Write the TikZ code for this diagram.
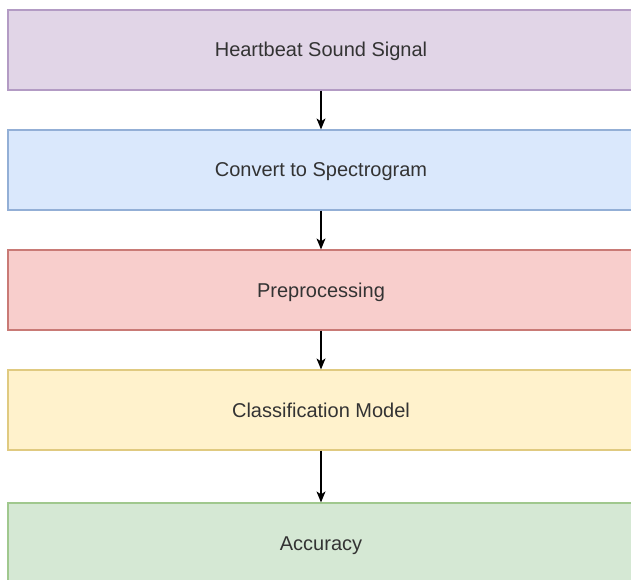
\documentclass[tikz,border=0pt]{standalone}
\usepackage{fontspec}
\setmainfont{Liberation Sans}
\usetikzlibrary{arrows.meta}
\definecolor{txt}{HTML}{333333}
\definecolor{pfill}{HTML}{E1D5E7}\definecolor{pline}{HTML}{B39BC4}
\definecolor{bfill}{HTML}{DAE8FC}\definecolor{bline}{HTML}{93AFD6}
\definecolor{rfill}{HTML}{F8CECC}\definecolor{rline}{HTML}{C97A76}
\definecolor{yfill}{HTML}{FFF2CC}\definecolor{yline}{HTML}{E0CA80}
\definecolor{gfill}{HTML}{D5E8D4}\definecolor{gline}{HTML}{A0C88E}
\tikzset{
  stagebox/.style={draw, line width=1.2pt, minimum width=626pt, minimum height=80pt,
    inner sep=0pt, text height=14pt, text depth=0pt, text=txt, font=\fontsize{20}{22}\selectfont},
  flowarrow/.style={-{Stealth[length=11pt,width=9pt,inset=3pt]}, line width=1.2pt, black}
}
\begin{document}
\begin{tikzpicture}[x=1pt,y=-1pt]
\useasboundingbox (0,0) rectangle (631,580);
\clip (0,0) rectangle (631,580);
\fill[white] (0,0) rectangle (631,580);
\node[stagebox, fill=pfill, draw=pline] (a) at (321,50) {Heartbeat Sound Signal};
\node[stagebox, fill=bfill, draw=bline] (b) at (321,170) {Convert to Spectrogram};
\node[stagebox, fill=rfill, draw=rline] (c) at (321,290) {Preprocessing};
\node[stagebox, fill=yfill, draw=yline] (d) at (321,410) {Classification Model};
\node[stagebox, fill=gfill, draw=gline] (e) at (321,543) {Accuracy};
\draw[flowarrow] (a.south) -- (b.north);
\draw[flowarrow] (b.south) -- (c.north);
\draw[flowarrow] (c.south) -- (d.north);
\draw[flowarrow] (d.south) -- (e.north);
\end{tikzpicture}
\end{document}
